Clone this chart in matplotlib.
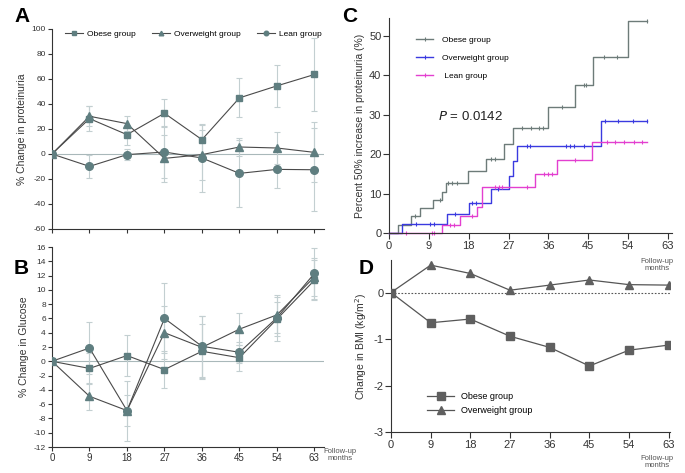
import matplotlib.pyplot as plt
import numpy as np

plt.rcParams['font.family'] = ['Liberation Sans', 'DejaVu Sans']
plt.rcParams['axes.unicode_minus'] = False

months = [0, 9, 18, 27, 36, 45, 54, 63]

# A: % change in proteinuria
prot_obese = [0, 28.3, 15.5, 32.6, 11.5, 44.9, 54.5, 63.6]
prot_obese_err = [0, 10, 8, 11, 12, 15.5, 17, 29]
prot_over = [0, 30.2, 24.3, -3.5, -0.5, 5.6, 4.8, 1.3]
prot_over_err = [0, 8, 6, 19, 20, 7, 13, 24]
prot_lean = [0, -9.9, -0.5, 1.6, -3.2, -15.5, -12.3, -12.6]
prot_lean_err = [0, 9, 4.5, 21, 27, 27, 15, 33]

# B: % change in glucose
glu_obese = [0, -1.0, 0.8, -1.16, 1.4, 0.5, 5.9, 11.35]
glu_obese_err = [0, 2.2, 2.9, 2.6, 3.8, 1.8, 2.4, 2.8]
glu_over = [0, -4.9, -6.9, 4.0, 1.95, 4.5, 6.5, 11.8]
glu_over_err = [0, 1.9, 2.2, 3.7, 4.4, 2.2, 2.5, 2.6]
glu_lean = [0, 1.86, -6.9, 6.0, 2.1, 1.26, 6.1, 12.3]
glu_lean_err = [0, 3.6, 4.2, 4.9, 4.3, 1.5, 3.2, 3.6]

# C: cumulative 50% increase in proteinuria (step data)
km_obese_t = [0, 2.0, 4.9, 6.9, 10.0, 12.0, 12.8, 17.9, 22.0, 26.0, 28.0, 36.0, 42.1, 46.0, 53.9, 58.3]
km_obese_p = [0, 2.1, 4.2, 6.3, 8.4, 10.5, 12.8, 15.7, 18.9, 22.7, 26.6, 32.0, 37.6, 44.6, 53.8, 53.8]
km_obese_cens = [5.9, 11.5, 13.4, 14.3, 15.4, 23.0, 23.9, 30, 32, 33.8, 34.8, 39, 44, 44.4, 48.6, 51.4, 58.3]
km_over_t = [0, 2.9, 13.0, 18.0, 23.0, 27.0, 28.1, 29.0, 47.9, 58.3]
km_over_p = [0, 2.2, 4.8, 7.6, 11.1, 14.6, 18.2, 22.1, 28.5, 28.5]
km_over_cens = [6.0, 9.2, 10.2, 14.9, 18.8, 19.6, 24.7, 31.1, 31.9, 40, 40.9, 41.8, 44, 48.8, 51.8, 55.1, 58.3]
km_lean_t = [0, 12.0, 16.0, 19.9, 20.9, 33.0, 38.0, 45.9, 58.3]
km_lean_p = [0, 2.0, 4.2, 6.7, 11.8, 15.1, 18.6, 23.1, 23.1]
km_lean_cens = [3.9, 9.6, 10.2, 13.7, 14.6, 18.8, 24, 24.8, 25.5, 31.1, 34.9, 36, 36.8, 42.1, 49.2, 51.1, 53, 55.3, 57.2]

# D: change in BMI
bmi_obese = [0, -0.65, -0.57, -0.94, -1.18, -1.58, -1.24, -1.13]
bmi_over = [0, 0.59, 0.41, 0.05, 0.16, 0.27, 0.17, 0.16]

mcol = '#5f7e80'
lcol = '#4a4a4a'
ecol = '#c3cfd1'
tcol = '#333333'

fig = plt.figure(figsize=(6.85, 4.73), dpi=100)
W, H = 685, 473


def px_axes(l, t, r, b):
    return fig.add_axes([l / W, 1 - b / H, (r - l) / W, (b - t) / H])


def style(ax, fs=6.5):
    ax.spines['top'].set_visible(False)
    ax.spines['right'].set_visible(False)
    for s in ['left', 'bottom']:
        ax.spines[s].set_color(tcol)
        ax.spines[s].set_linewidth(0.8)
    ax.tick_params(direction='out', length=3, width=0.8, colors=tcol, labelsize=fs, pad=1.5)


def grp(ax, y, e, mk, ms, label):
    ax.errorbar(months, y, yerr=e, fmt='none', ecolor=ecol, elinewidth=0.8, capsize=2.5, capthick=0.8, zorder=1)
    ax.plot(months, y, color=lcol, lw=0.8, marker=mk, ms=ms, mfc=mcol, mec=mcol, label=label, zorder=3)


# ---- A
axA = px_axes(52, 29, 324, 229)
style(axA, 6)
axA.axhline(0, color='#a9b8ba', lw=0.8, zorder=0)
grp(axA, prot_obese, prot_obese_err, 's', 5, 'Obese group')
grp(axA, prot_over, prot_over_err, '^', 5.5, 'Overweight group')
grp(axA, prot_lean, prot_lean_err, 'o', 5.5, 'Lean group')
axA.set_xlim(0, 65.3)
axA.set_ylim(-60, 100)
axA.set_xticks(months)
axA.set_xticklabels([])
axA.set_yticks(range(-60, 101, 20))
axA.set_ylabel('% Change in proteinuria', fontsize=7.5, color=tcol, labelpad=3)
axA.legend(loc='upper left', bbox_to_anchor=(0.02, 1.03), ncol=3, frameon=False, fontsize=6,
           markerscale=0.6, handlelength=2.2, columnspacing=2.0, handletextpad=0.4)

# ---- B
axB = px_axes(52, 247, 324, 447)
style(axB, 6)
axB.axhline(0, color='#a9b8ba', lw=0.8, zorder=0)
grp(axB, glu_obese, glu_obese_err, 's', 5, 'Obese group')
grp(axB, glu_over, glu_over_err, '^', 5.5, 'Overweight group')
grp(axB, glu_lean, glu_lean_err, 'o', 5.5, 'Lean group')
axB.set_xlim(0, 65.3)
axB.set_ylim(-12, 16)
axB.set_xticks(months)
axB.set_yticks(range(-12, 17, 2))
axB.tick_params(axis='x', labelsize=7)
axB.set_ylabel('% Change in Glucose', fontsize=7.5, color=tcol, labelpad=3)
fig.text(340 / W, 1 - 455 / H, 'Follow-up\nmonths', fontsize=5.5, color='#555555', ha='center',
         va='center', linespacing=0.9)

# ---- C
axC = px_axes(389, 18, 672, 233)
style(axC, 8)
axC.tick_params(length=4)
kmc = {'o': '#6d7b79', 'v': '#3a3ae0', 'l': '#e33fd0'}
for t, p, c, col, lab in [(km_obese_t, km_obese_p, km_obese_cens, kmc['o'], 'Obese group'),
                          (km_over_t, km_over_p, km_over_cens, kmc['v'], 'Overweight group'),
                          (km_lean_t, km_lean_p, km_lean_cens, kmc['l'], ' Lean group')]:
    axC.step(t, p, where='post', color=col, lw=1.0, clip_on=False)
    idx = np.searchsorted(t, c, side='right') - 1
    axC.plot(c, np.array(p)[idx], ls='none', marker='|', ms=3, mew=0.8, color=col, clip_on=False)
    axC.plot([], [], color=col, lw=1.0, marker='|', ms=3, mew=0.8, label=lab)
axC.set_xlim(0, 63.9)
axC.set_ylim(0, 54.6)
axC.set_xticks(months)
axC.set_yticks(range(0, 51, 10))
axC.set_ylabel('Percent 50% increase in proteinuria (%)', fontsize=7.5, color=tcol, labelpad=3)
axC.legend(loc='upper left', bbox_to_anchor=(0.07, 0.95), frameon=False, fontsize=6,
           handlelength=2.0, handletextpad=1.1, labelspacing=1.2)
axC.text(11.0, 29.7, '$\\it{P}$ = 0.0142', fontsize=9.5, color='#222222', va='center')
fig.text(657 / W, 1 - 265 / H, 'Follow-up\nmonths', fontsize=5.5, color='#555555', ha='center',
         va='center', linespacing=0.9)

# ---- D
axD = px_axes(391, 260, 670, 432)
style(axD, 8)
axD.tick_params(length=4)
axD.axhline(0, color='#555555', lw=0.8, ls=(0, (1.5, 1.5)), zorder=0)
axD.plot(months, bmi_obese, color='#555555', lw=0.9, marker='s', ms=5.5, mfc='#5f5f5f', mec='#5f5f5f',
         label='Obese group', zorder=3)
axD.plot(months, bmi_over, color='#555555', lw=0.9, marker='^', ms=5.5, mfc='#5f5f5f', mec='#5f5f5f',
         label='Overweight group', zorder=3)
axD.set_xlim(0, 63.3)
axD.set_ylim(-3, 0.7)
axD.set_xticks(months)
axD.set_yticks([-3, -2, -1, 0])
axD.set_ylabel('Change in BMI (kg/m$^2$)', fontsize=7.5, color=tcol, labelpad=3)
axD.legend(loc='lower left', bbox_to_anchor=(0.1, 0.05), frameon=False, fontsize=6.5,
           handlelength=3.0, labelspacing=0.6)
fig.text(657 / W, 1 - 462 / H, 'Follow-up\nmonths', fontsize=5.5, color='#555555', ha='center',
         va='center', linespacing=0.9)

# panel letters
for s, x, y in [('A', 14, 17), ('B', 14, 268), ('C', 342, 16), ('D', 359, 268)]:
    fig.text(x / W, 1 - y / H, s, fontsize=15, fontweight='bold', ha='left', va='center')

fig.savefig('out.png', dpi=100)
